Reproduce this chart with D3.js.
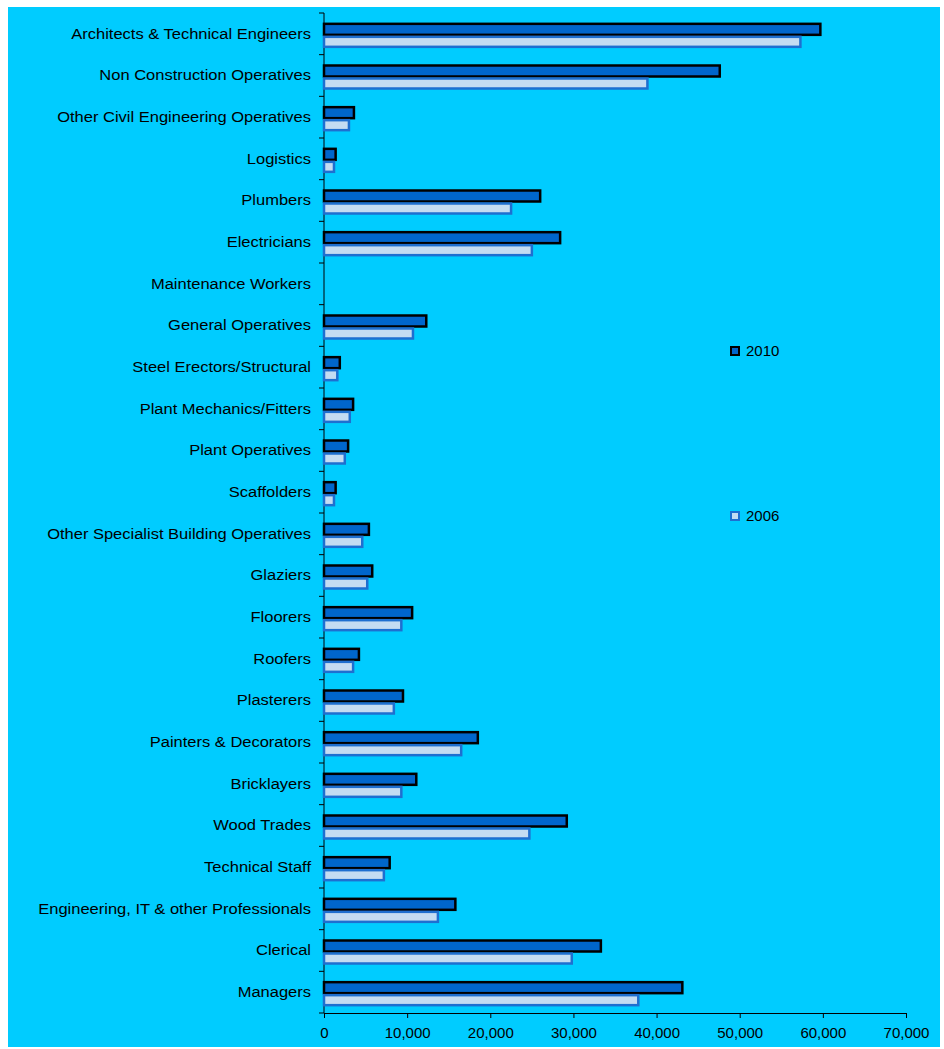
<!DOCTYPE html>
<html><head><meta charset="utf-8">
<script src="https://cdn.jsdelivr.net/npm/d3@7"></script>
<style>body{margin:0;background:#fff}</style>
</head><body><svg id="c" width="944" height="1049"></svg>
<script>
var categories = ["Architects & Technical Engineers","Non Construction Operatives","Other Civil Engineering Operatives","Logistics","Plumbers","Electricians","Maintenance Workers","General Operatives","Steel Erectors/Structural","Plant Mechanics/Fitters","Plant Operatives","Scaffolders","Other Specialist Building Operatives","Glaziers","Floorers","Roofers","Plasterers","Painters & Decorators","Bricklayers","Wood Trades","Technical Staff","Engineering, IT & other Professionals","Clerical","Managers"];
var values2010 = [59700,47600,3600,1400,26000,28400,0,12300,1900,3500,2900,1400,5400,5800,10600,4200,9500,18500,11100,29200,7900,15800,33300,43100];
var values2006 = [57300,38900,3000,1200,22500,25000,0,10700,1600,3100,2500,1200,4600,5200,9300,3500,8400,16500,9300,24700,7200,13700,29800,37800];
var xTicks = [0,10000,20000,30000,40000,50000,60000,70000];

var svg = d3.select("#c");
svg.append("rect").attr("x",8).attr("y",7).attr("width",932).attr("height",1040).attr("fill","#00CCFF");

var x = d3.scaleLinear().domain([0,70000]).range([324,906]);
var y = d3.scaleBand().domain(categories).range([13,1013]);
var font = "Liberation Sans, Arial, sans-serif";

svg.append("line").attr("x1",324).attr("x2",324).attr("y1",13).attr("y2",1013).attr("stroke","#000");
svg.selectAll(".yt").data(d3.range(categories.length+1)).enter().append("line")
  .attr("x1",319).attr("x2",324)
  .attr("y1",function(i){return 13+i*y.step();}).attr("y2",function(i){return 13+i*y.step();})
  .attr("stroke","#000");

svg.selectAll(".lab").data(categories).enter().append("text")
  .attr("x",311).attr("y",function(d){return y(d)+y.bandwidth()/2+5;})
  .attr("text-anchor","end").attr("font-family",font)
  .attr("font-size",15).attr("fill","#000")
  .attr("transform",function(d){var yy=y(d)+y.bandwidth()/2;return "translate(311,"+yy+") scale(1.1,1) translate(-311,"+(-yy)+")";})
  .text(function(d){return d;});

var xa = svg.append("g").attr("transform","translate(0,1013)")
  .call(d3.axisBottom(x).tickValues(xTicks).tickSize(5).tickSizeOuter(0).tickFormat(d3.format(",")));
xa.select(".domain").attr("stroke","#000");
xa.selectAll("text").attr("font-family",font).attr("font-size",15).attr("fill","#000").attr("dy","1.1em");

var half = y.bandwidth()/2;
svg.selectAll(".b10").data(categories).enter().append("rect")
  .attr("x",x(0)).attr("y",function(d){return y(d)+half-10;})
  .attr("width",function(d,i){return x(values2010[i])-x(0);}).attr("height",11)
  .attr("fill","#0066CC").attr("stroke","#000").attr("stroke-width",function(d,i){return values2010[i]?2.5:0;});
svg.selectAll(".b06").data(categories).enter().append("rect")
  .attr("x",x(0)).attr("y",function(d){return y(d)+half+3;})
  .attr("width",function(d,i){return x(values2006[i])-x(0);}).attr("height",10)
  .attr("fill","#C4DCF2").attr("stroke","#1E6FD0").attr("stroke-width",function(d,i){return values2006[i]?2.5:0;});

var leg = [["2010","#0066CC","#000",351],["2006","#C4DCF2","#1E6FD0",516]];
leg.forEach(function(l){
  svg.append("rect").attr("x",731).attr("y",l[3]-4).attr("width",8).attr("height",8)
    .attr("fill",l[1]).attr("stroke",l[2]).attr("stroke-width",2);
  svg.append("text").attr("x",746).attr("y",l[3]+5).attr("font-family",font)
    .attr("font-size",15).text(l[0]);
});
</script></body></html>
